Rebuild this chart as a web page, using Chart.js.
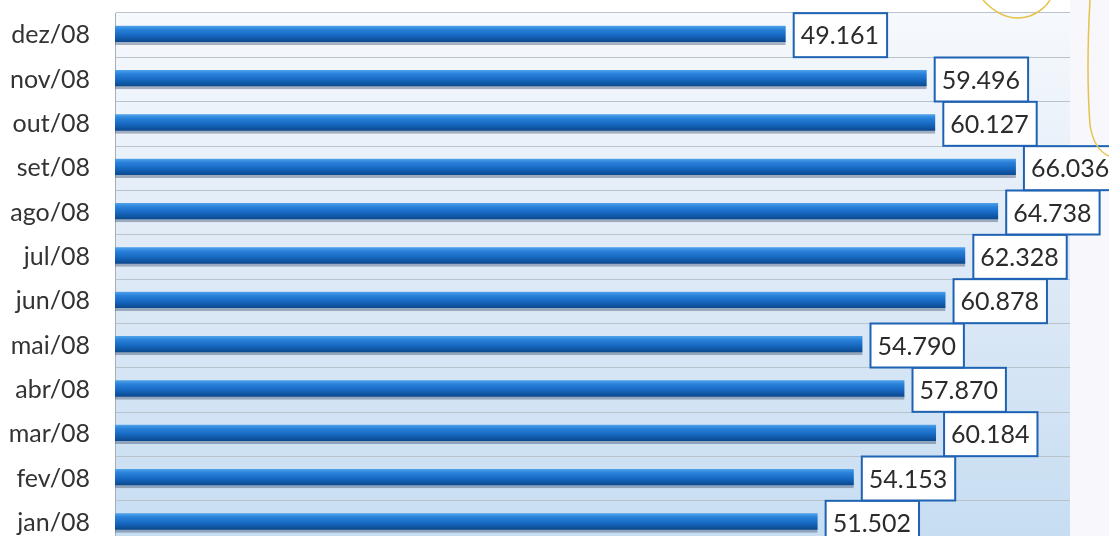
<!DOCTYPE html>
<html>
<head>
<meta charset="utf-8">
<script src="https://cdn.jsdelivr.net/npm/chart.js@4/dist/chart.umd.min.js"></script>
<style>
  html, body { margin: 0; padding: 0; background: #ffffff; overflow: hidden; }
  #wrap { position: relative; width: 1109px; height: 545px; }
</style>
</head>
<body>
<div id="wrap"><canvas id="barChart"></canvas></div>
<script>
// meses em ordem cronologica (jan embaixo)
const months = ['jan/08', 'fev/08', 'mar/08', 'abr/08', 'mai/08', 'jun/08',
                'jul/08', 'ago/08', 'set/08', 'out/08', 'nov/08', 'dez/08'];
const totals = [51502, 54153, 60184, 57870, 54790, 60878,
                62328, 64738, 66036, 60127, 59496, 49161];
const axisMax = 70000;

function fmt(v) {
    return Math.floor(v / 1000) + '.' + String(v % 1000).padStart(3, '0');
}

// fundo azul claro da area do grafico + faixa da direita
const plotBg = {
    id: 'plotBg',
    beforeDraw(chart) {
        const { ctx, chartArea: a, width, height } = chart;
        ctx.save();
        ctx.fillStyle = '#f8f7fb';
        ctx.fillRect(a.right, 0, width - a.right, height);
        const g = ctx.createLinearGradient(0, a.top, 0, a.bottom);
        g.addColorStop(0, '#f6f9fd');
        g.addColorStop(0.5, '#dde9f6');
        g.addColorStop(1, '#c6ddf2');
        ctx.fillStyle = g;
        ctx.fillRect(a.left, a.top, a.right - a.left, a.bottom - a.top);
        ctx.restore();
    }
};

// caixinhas com os valores
const valueBoxes = {
    id: 'valueBoxes',
    afterDatasetsDraw(chart) {
        const ctx = chart.ctx;
        const meta = chart.getDatasetMeta(0);
        ctx.save();
        ctx.font = '25px Lato';
        ctx.textBaseline = 'middle';
        meta.data.forEach((bar, i) => {
            const txt = fmt(totals[i]);
            const w = ctx.measureText(txt).width + 15;
            const x = bar.x + 8;
            const y = bar.y - 22;
            ctx.fillStyle = '#ffffff';
            ctx.fillRect(x, y, w, 44);
            ctx.strokeStyle = '#1e63b3';
            ctx.lineWidth = 2;
            ctx.strokeRect(x, y, w, 44);
            ctx.fillStyle = '#2b2b2b';
            ctx.fillText(txt, x + 7, bar.y + 1);
        });
        ctx.restore();
    }
};

// marca amarela feita a mao no canto
const yellowMark = {
    id: 'yellowMark',
    afterDraw(chart) {
        const ctx = chart.ctx;
        ctx.save();
        ctx.strokeStyle = '#e6c24a';
        ctx.lineWidth = 1.5;
        ctx.beginPath();
        ctx.moveTo(983, 0);
        ctx.quadraticCurveTo(1005, 24, 1030, 16);
        ctx.quadraticCurveTo(1044, 10, 1050, 0);
        ctx.stroke();
        ctx.beginPath();
        ctx.moveTo(1090, 0);
        ctx.quadraticCurveTo(1086, 70, 1090, 125);
        ctx.quadraticCurveTo(1094, 150, 1109, 156);
        ctx.stroke();
        ctx.restore();
    }
};

function barFill(c) {
    const ys = c.chart.scales.y;
    if (!ys || c.dataIndex === undefined) return '#1a6fc8';
    const yc = ys.getPixelForValue(c.dataIndex);
    if (!isFinite(yc)) return '#1a6fc8';
    const g = c.chart.ctx.createLinearGradient(0, yc - 9, 0, yc + 9);
    g.addColorStop(0, '#4b9ee8');
    g.addColorStop(0.18, '#2a82da');
    g.addColorStop(0.5, '#1769c2');
    g.addColorStop(0.8, '#0d4f98');
    g.addColorStop(1, '#0a3f7c');
    return g;
}

const ctx = document.getElementById('barChart').getContext('2d');
const barChart = new Chart(ctx, {
    type: 'bar',
    data: {
        labels: months,
        datasets: [{
            data: totals,
            backgroundColor: barFill,
            borderColor: 'rgba(70, 90, 120, 0.45)',
            borderWidth: { top: 0, right: 0, left: 0, bottom: 3 },
            borderSkipped: false,
            barThickness: 19
        }]
    },
    options: {
        indexAxis: 'y',
        responsive: true,
        maintainAspectRatio: false,
        animation: false,
        layout: { padding: { top: 13, right: 39, bottom: 0, left: 0 } },
        plugins: {
            legend: { display: false },
            tooltip: { enabled: false }
        },
        scales: {
            x: { display: false, min: 0, max: axisMax },
            y: {
                reverse: true,
                afterFit(axis) {
                    axis.width = 115;
                    axis.paddingTop = 0;
                    axis.paddingBottom = 0;
                },
                grid: { color: '#b9c3cc', lineWidth: 1, drawTicks: false },
                border: { display: true, color: '#a7b0b8', width: 1 },
                ticks: {
                    padding: 25,
                    color: '#333333',
                    font: { family: 'Lato', size: 25 }
                }
            }
        }
    },
    plugins: [plotBg, valueBoxes, yellowMark]
});
</script>
</body>
</html>
